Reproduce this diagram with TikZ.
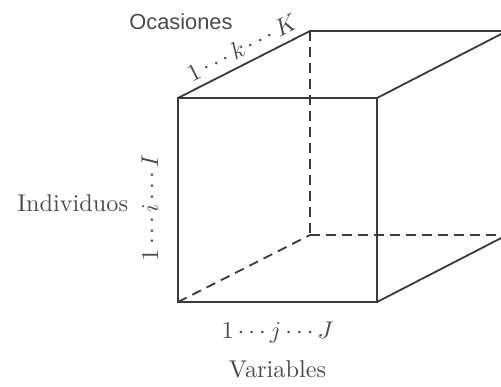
\documentclass[tikz,border=0pt]{standalone}
\usepackage{fontspec}
\newfontfamily\arialfont{Liberation Sans}
\usepackage{tikz}
\usetikzlibrary{positioning}
\definecolor{edgegray}{HTML}{3A3A3A}
\definecolor{textgray}{HTML}{4A4A4A}

\begin{document}
\begin{tikzpicture}[
  edge/.style={draw=edgegray,line width=0.75pt},
  hidden/.style={edge,dash pattern=on 4pt off 2.6pt},
  lab/.style={text=textgray,inner sep=1pt},
  x=0.0145cm,y=-0.0145cm
]
\clip (0,0) rectangle (501,386);
% front face
\coordinate (f1) at (178,98);
\coordinate (f2) at (377,98);
\coordinate (f3) at (377,302);
\coordinate (f4) at (178,302);
% back face (shifted)
\coordinate (b1) at (310,31);
\coordinate (b2) at (507,31);
\coordinate (b3) at (507,235);
\coordinate (b4) at (310,235);
% visible edges
\draw[edge] (f1) -- (f2) -- (f3) -- (f4) -- cycle;
\draw[edge] (f1) -- (b1) -- (b2);
\draw[edge] (f2) -- (b2);
\draw[edge] (f3) -- (b3);
% hidden edges
\draw[hidden] (b1) -- (b4);
\draw[hidden] (b4) -- (b3);
\draw[hidden] (f4) -- (b4);
% index labels
\path (f1) -- (b1) node[lab,sloped,above=2pt,pos=0.54] (klab) {$1\cdots k\cdots K$};
\path (f4) -- (f1) node[lab,sloped,above=7pt,pos=0.46] (ilab) {$1\cdots i\cdots I$};
\path (f4) -- (f3) node[lab,below=7pt,midway] (jlab) {$1\cdots j\cdots J$};
% way names
\node[lab,below=5pt of jlab] (varlab) {Variables};
\node[lab,anchor=east] (indlab) at (131,203) {Individuos};
\node[lab,font=\arialfont\small] (ocalab) at (181,22) {Ocasiones};
\end{tikzpicture}
\end{document}
